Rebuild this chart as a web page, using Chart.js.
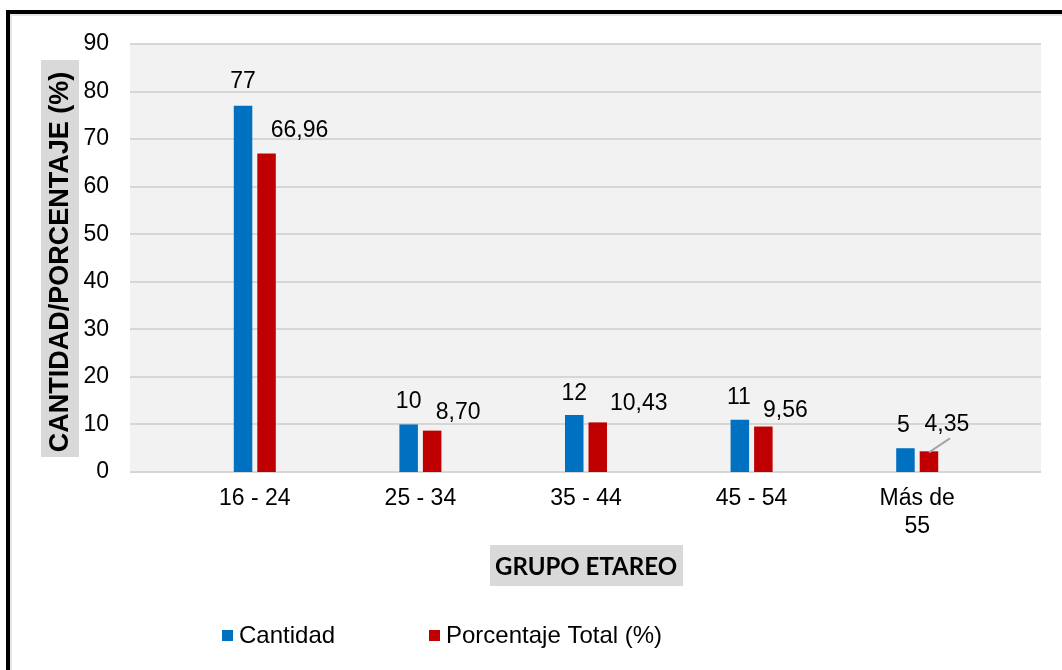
<!DOCTYPE html>
<html>
<head>
<meta charset="utf-8">
<script src="https://cdn.jsdelivr.net/npm/chart.js@4/dist/chart.umd.min.js"></script>
<style>
  html, body { margin: 0; padding: 0; background: #fff; }
  canvas { display: block; }
</style>
</head>
<body>
<canvas id="chart" width="1062" height="670"></canvas>
<script>
// ---- data ----
const categories = ['16 - 24', '25 - 34', '35 - 44', '45 - 54', ['Más de', '55']];
const cantidad = [77, 10, 12, 11, 5];
const porcentaje = [66.96, 8.70, 10.43, 9.56, 4.35];
const yTickValues = [0, 10, 20, 30, 40, 50, 60, 70, 80, 90];
const seriesNames = ['Cantidad', 'Porcentaje Total (%)'];
const yTitle = 'CANTIDAD/PORCENTAJE (%)';
const xTitle = 'GRUPO ETAREO';

// ---- label placement (dx from bar centre, dy of baseline from bar top, leader line) ----
const cantidadLabelShift = [[0, -18], [0, -16], [0, -15], [-1, -16], [-2, -16]];
const porcentajeLabelShift = [[33, -17], [26, -12], [41, -12], [22, -10], [18, -20, true]];

const FONT = '"Liberation Sans", Arial, sans-serif';
const TEXT_SIZE = 23;
const LEGEND_SIZE = 24;
const BLUE = '#0070C0';
const RED = '#C00000';

const fmtInt = v => String(v);
const fmtPct = v => v.toFixed(2).replace('.', ',');

const decor = {
  id: 'decor',
  beforeDraw(chart) {
    const ctx = chart.ctx;
    const area = chart.chartArea;
    const y = chart.scales.y;
    ctx.save();
    // page background
    ctx.fillStyle = '#fff';
    ctx.fillRect(0, 0, chart.width, chart.height);
    // outer frame
    ctx.fillStyle = '#e6e6e6';
    ctx.fillRect(10, 14, chart.width - 10, 2);
    ctx.fillRect(10, 14, 2, chart.height - 14);
    ctx.fillStyle = '#000';
    ctx.fillRect(6, 10, chart.width - 6, 4);
    ctx.fillRect(6, 10, 4, chart.height - 10);

    // plot background, wider than the category band
    const left = area.left - 42;
    const right = area.right + 41;
    ctx.fillStyle = '#f2f2f2';
    ctx.fillRect(left, area.top - 1, right - left, area.bottom - area.top + 2);
    // horizontal grid lines
    ctx.strokeStyle = '#d6d6d6';
    ctx.lineWidth = 2;
    yTickValues.forEach(v => {
      const py = Math.round(y.getPixelForValue(v));
      ctx.beginPath();
      ctx.moveTo(left, py);
      ctx.lineTo(right, py);
      ctx.stroke();
    });

    // y-axis title with grey box
    ctx.fillStyle = '#d9d9d9';
    ctx.fillRect(41, 60, 38, 397);
    ctx.translate(61, 262);
    ctx.rotate(-Math.PI / 2);
    ctx.fillStyle = '#000';
    ctx.font = 'bold 27px ' + FONT;
    ctx.textAlign = 'center';
    ctx.textBaseline = 'middle';
    ctx.fillText(yTitle, 0, 0);
    ctx.setTransform(1, 0, 0, 1, 0, 0);

    // x-axis title with grey box
    ctx.fillStyle = '#d9d9d9';
    ctx.fillRect(490, 545, 193, 41);
    ctx.fillStyle = '#000';
    ctx.font = '700 24px Lato, "Open Sans", sans-serif';
    ctx.textAlign = 'center';
    ctx.textBaseline = 'alphabetic';
    ctx.fillText(xTitle, 586, 575);
    ctx.restore();
  },
  afterDatasetsDraw(chart) {
    const ctx = chart.ctx;
    ctx.save();
    ctx.font = TEXT_SIZE + 'px ' + FONT;
    ctx.fillStyle = '#000';
    ctx.textAlign = 'center';
    ctx.textBaseline = 'alphabetic';
    const sets = [
      { values: cantidad, shift: cantidadLabelShift, fmt: fmtInt },
      { values: porcentaje, shift: porcentajeLabelShift, fmt: fmtPct }
    ];
    sets.forEach((s, di) => {
      const meta = chart.getDatasetMeta(di);
      meta.data.forEach((bar, i) => {
        const [dx, dy, leader] = s.shift[i];
        const tx = bar.x + dx;
        const ty = bar.y + dy;
        if (leader) {
          ctx.strokeStyle = '#a6a6a6';
          ctx.lineWidth = 2;
          ctx.beginPath();
          ctx.moveTo(bar.x, bar.y + 1);
          ctx.lineTo(bar.x + 21, bar.y - 13);
          ctx.stroke();
        }
        ctx.fillText(s.fmt(s.values[i]), tx, ty);
      });
    });

    // legend
    const legendX = [222, 429];
    ctx.font = LEGEND_SIZE + 'px ' + FONT;
    chart.data.datasets.forEach((ds, i) => {
      ctx.fillStyle = ds.backgroundColor;
      ctx.fillRect(legendX[i], 630, 11, 11);
      ctx.fillStyle = '#000';
      ctx.textAlign = 'left';
      ctx.fillText(ds.label, legendX[i] + 17, 643);
    });
    ctx.restore();
  }
};

new Chart(document.getElementById('chart'), {
  type: 'bar',
  data: {
    labels: categories,
    datasets: [
      { label: seriesNames[0], data: cantidad, backgroundColor: BLUE,
        categoryPercentage: 0.284, barPercentage: 0.787 },
      { label: seriesNames[1], data: porcentaje, backgroundColor: RED,
        categoryPercentage: 0.284, barPercentage: 0.787 }
    ]
  },
  options: {
    responsive: false,
    animation: false,
    events: [],
    layout: { padding: { left: 0, right: 62, top: 44, bottom: 0 } },
    plugins: {
      legend: { display: false },
      tooltip: { enabled: false }
    },
    scales: {
      x: {
        grid: { display: false, drawTicks: false },
        border: { display: false },
        ticks: {
          color: '#000',
          font: { family: FONT, size: TEXT_SIZE, lineHeight: 1.2 },
          padding: 13,
          maxRotation: 0,
          autoSkip: false
        },
        afterFit: s => {
          s.height = 198;
          s.paddingLeft = 0;
          s.paddingRight = 0;
        }
      },
      y: {
        min: 0,
        max: 90,
        afterBuildTicks: s => { s.ticks = yTickValues.map(v => ({ value: v })); },
        grid: { display: false, drawTicks: false },
        border: { display: false },
        ticks: {
          color: '#000',
          font: { family: FONT, size: TEXT_SIZE },
          padding: 63
        },
        afterFit: s => {
          s.width = 172;
          s.paddingTop = 0;
          s.paddingBottom = 0;
        }
      }
    }
  },
  plugins: [decor]
});
</script>
</body>
</html>
